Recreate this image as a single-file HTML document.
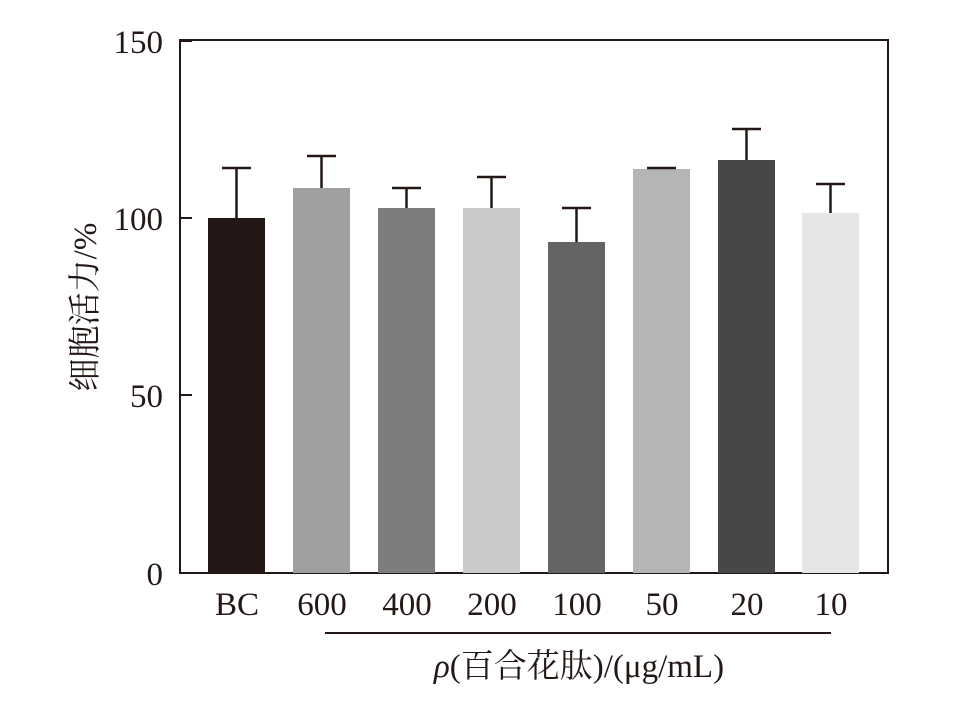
<!DOCTYPE html>
<html><head><meta charset="utf-8"><style>
body{margin:0;background:#fff}
svg text{font-family:"Liberation Serif","Noto Serif CJK SC",serif;fill:#231815}
</style></head><body>
<svg width="957" height="697" viewBox="0 0 957 697" xmlns="http://www.w3.org/2000/svg">
<g fill="none" stroke="#231815" stroke-width="2">
<rect x="180" y="40" width="708" height="533"/>
<line x1="180" y1="218" x2="192" y2="218"/>
<line x1="180" y1="395" x2="192" y2="395"/>
<line x1="180" y1="41" x2="192" y2="41"/>
</g>
<g>
<rect x="208" y="218" width="57" height="355" fill="#231815"/>
<rect x="293" y="188" width="57" height="385" fill="#9e9f9f"/>
<rect x="378" y="208" width="57" height="365" fill="#7d7d7d"/>
<rect x="463" y="208" width="57" height="365" fill="#c9caca"/>
<rect x="548" y="242" width="57" height="331" fill="#646464"/>
<rect x="633" y="169" width="57" height="404" fill="#b4b5b5"/>
<rect x="718" y="160" width="57" height="413" fill="#474747"/>
<rect x="802" y="213" width="57" height="360" fill="#e6e6e6"/>
</g>
<g stroke="#231815" stroke-width="2.5" fill="none">
<path d="M236.5 218V168M222 168h29"/>
<path d="M321.5 188V156M307 156h29"/>
<path d="M406.5 208V188M392 188h29"/>
<path d="M491.5 208V177M477 177h29"/>
<path d="M576.5 242V208M562 208h29"/>
<path d="M661.5 169V168M647 168h29"/>
<path d="M746.5 160V129M732 129h29"/>
<path d="M830.5 213V184M816 184h29"/>
<line x1="325" y1="633" x2="831" y2="633" stroke-width="2"/>
</g>
<g font-size="33" text-anchor="end">
<text x="163" y="53">150</text>
<text x="163" y="230">100</text>
<text x="163" y="407">50</text>
<text x="163" y="585">0</text>
</g>
<g font-size="33" text-anchor="middle">
<text x="237" y="615">BC</text>
<text x="322" y="615">600</text>
<text x="407" y="615">400</text>
<text x="492" y="615">200</text>
<text x="577" y="615">100</text>
<text x="662" y="615">50</text>
<text x="747" y="615">20</text>
<text x="831" y="615">10</text>
</g>
<text x="579" y="677" font-size="33" text-anchor="middle"><tspan font-style="italic">ρ</tspan>(百合花肽)/(μg/mL)</text>
<text transform="translate(96,307) rotate(-90)" font-size="33" text-anchor="middle">细胞活力/%</text>
</svg>
</body></html>
